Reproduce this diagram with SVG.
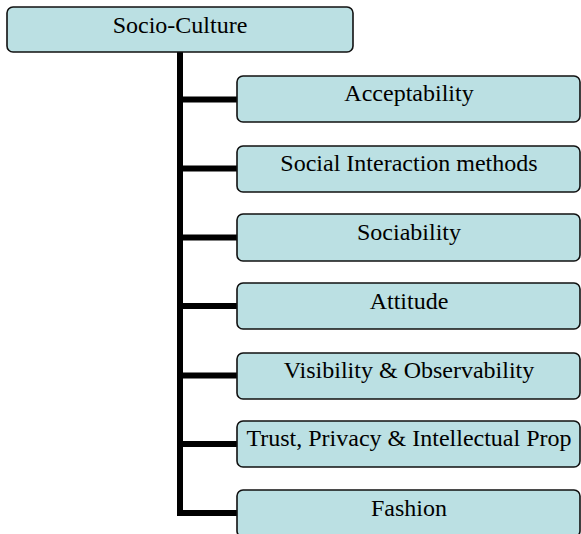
<svg xmlns="http://www.w3.org/2000/svg" width="581" height="534" viewBox="0 0 581 534">
<style>
.box{fill:#bbe0e3;stroke:#111;stroke-width:1.6}
.lbl{font-family:"Liberation Serif","Times New Roman",serif;font-size:24px;fill:#000;text-anchor:middle}
.conn{fill:none;stroke:#000;stroke-width:6;stroke-linejoin:miter;stroke-linecap:butt}
</style>
<rect width="581" height="534" fill="#fff"/>
<g id="connectors">
<path class="conn" d="M180 52 V513 H237"/>
<path class="conn" d="M180 99.5 H237 M180 168.5 H237 M180 237.5 H237 M180 306 H237 M180 375.5 H237 M180 444 H237"/>
</g>
<g id="root"><rect class="box" x="7" y="7" width="346" height="45" rx="6"/><text class="lbl" x="180" y="33">Socio-Culture</text></g>
<g id="n1"><rect class="box" x="237" y="76" width="343" height="46" rx="6"/><text class="lbl" x="409" y="101">Acceptability</text></g>
<g id="n2"><rect class="box" x="237" y="146" width="343" height="46" rx="6"/><text class="lbl" x="409" y="171">Social Interaction methods</text></g>
<g id="n3"><rect class="box" x="237" y="214" width="343" height="47" rx="6"/><text class="lbl" x="409" y="240">Sociability</text></g>
<g id="n4"><rect class="box" x="237" y="283" width="343" height="46" rx="6"/><text class="lbl" x="409" y="309">Attitude</text></g>
<g id="n5"><rect class="box" x="237" y="353" width="343" height="46" rx="6"/><text class="lbl" x="409" y="378">Visibility &amp; Observability</text></g>
<g id="n6"><rect class="box" x="237" y="421" width="343" height="46" rx="6"/><text class="lbl" x="409" y="446">Trust, Privacy &amp; Intellectual Prop</text></g>
<g id="n7"><rect class="box" x="237" y="490" width="343" height="47" rx="6"/><text class="lbl" x="409" y="516">Fashion</text></g>
</svg>
